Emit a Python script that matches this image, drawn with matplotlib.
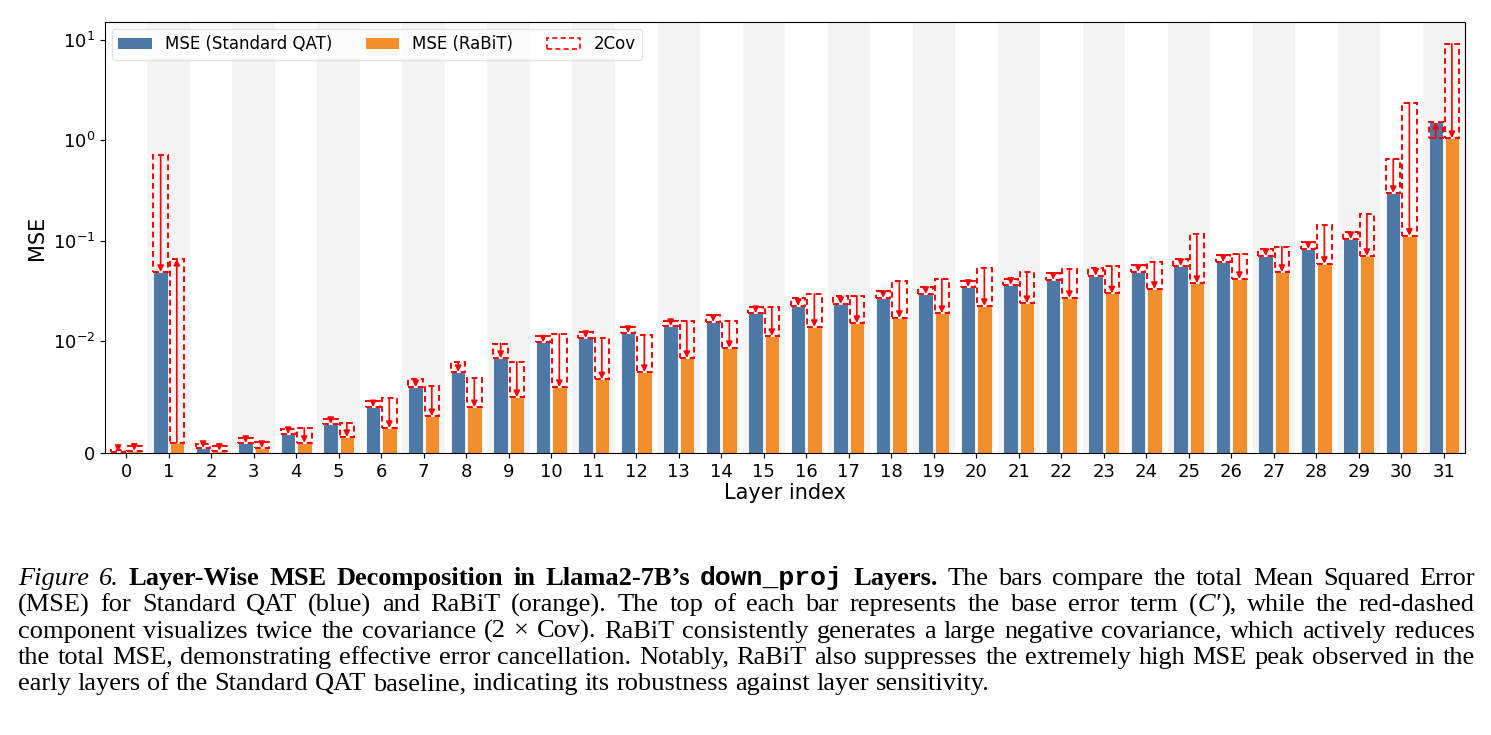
import matplotlib
matplotlib.use("Agg")
import matplotlib.pyplot as plt
from matplotlib.patches import Patch
from matplotlib.ticker import NullLocator

# valeurs (MSE par couche)
layers = list(range(32))
qat_bar = [0.0001, 0.049, 0.00045, 0.0009, 0.0017, 0.0026, 0.0041, 0.0059, 0.00725, 0.0085,
           0.0099, 0.0108, 0.0121, 0.0142, 0.0156, 0.0191, 0.0225, 0.0235, 0.027, 0.0296,
           0.0348, 0.0365, 0.041, 0.045, 0.049, 0.0562, 0.0616, 0.0707, 0.083, 0.104,
           0.299, 1.52]
qat_box = [0.0003, 0.714, 0.0008, 0.00134, 0.00215, 0.00305, 0.00466, 0.0066, 0.00815, 0.0098,
           0.0113, 0.0124, 0.0139, 0.0159, 0.0183, 0.022, 0.027, 0.0283, 0.0317, 0.0348,
           0.0398, 0.0417, 0.048, 0.053, 0.058, 0.066, 0.0723, 0.083, 0.0975, 0.122,
           0.65, 1.05]
rabit_bar = [0.0002, 0.0009, 0.0002, 0.00045, 0.0009, 0.00143, 0.00224, 0.0033, 0.0041, 0.005,
             0.0059, 0.0066, 0.00725, 0.0085, 0.0094, 0.0113, 0.0139, 0.0152, 0.0171, 0.0191,
             0.0225, 0.024, 0.027, 0.030, 0.0332, 0.038, 0.0417, 0.049, 0.0589, 0.0707,
             0.112, 1.05]
rabit_box = [0.0006, 0.066, 0.0006, 0.001, 0.00224, 0.00269, 0.0049, 0.006, 0.0067, 0.00815,
             0.0118, 0.0108, 0.0116, 0.016, 0.016, 0.022, 0.0296, 0.0283, 0.0398, 0.0417,
             0.054, 0.049, 0.052, 0.056, 0.0616, 0.117, 0.074, 0.087, 0.144, 0.185,
             2.36, 9.1]
# couches ou la fleche part de la barre vers le cadre
rabit_reversed = [1]
qat_reversed = []

BLUE = "#4e79a7"
ORANGE = "#f28e2b"
W = 0.34
OFF = 0.19

fig = plt.figure(figsize=(14.91, 7.35), dpi=100)
ax = fig.add_axes([0.0704, 0.3837, 0.9122, 0.5863])

for i in layers:
    if i % 2 == 1:
        ax.axvspan(i - 0.5, i + 0.5, color="#f4f4f4", zorder=0, lw=0)


def draw_series(xs, bars, boxes, color, reversed_idx):
    ax.bar(xs, bars, width=W, color=color, edgecolor="white", linewidth=0.6, zorder=2)
    for x, h, c, i in zip(xs, bars, boxes, layers):
        lo, hi = min(h, c), max(h, c)
        ax.bar(x, hi - lo, bottom=lo, width=W, fill=False, edgecolor="red",
               linestyle=(0, (3, 2)), linewidth=1.4, zorder=3)
        start, end = (h, c) if i in reversed_idx else (c, h)
        ax.annotate("", xy=(x, end), xytext=(x, start),
                    arrowprops=dict(arrowstyle="-|>", color="red", lw=1.2,
                                    mutation_scale=9, shrinkA=0, shrinkB=0),
                    zorder=4)


draw_series([i - OFF for i in layers], qat_bar, qat_box, BLUE, qat_reversed)
draw_series([i + OFF for i in layers], rabit_bar, rabit_box, ORANGE, rabit_reversed)

ax.set_yscale("symlog", linthresh=0.01, linscale=1)
ax.set_ylim(0, 15)
ax.yaxis.set_minor_locator(NullLocator())
ax.set_xlim(-0.5, 31.5)
ax.set_xticks(layers)
ax.set_xticklabels([str(i) for i in layers])
ax.tick_params(labelsize=13)
ax.set_xlabel("Layer index", fontsize=15, labelpad=2)
ax.set_ylabel("MSE", fontsize=15)

handles = [Patch(facecolor=BLUE, label="MSE (Standard QAT)"),
           Patch(facecolor=ORANGE, label="MSE (RaBiT)"),
           Patch(facecolor="none", edgecolor="red", linestyle=(0, (3, 2)),
                 linewidth=1.2, label="2Cov")]
ax.legend(handles=handles, loc="upper left", ncol=3, fontsize=12, frameon=True,
          framealpha=0.8, edgecolor="#dddddd", borderaxespad=0.4)

# legende de la figure, justifiee
caption = [
    [("Figure 6.", "it"), (" Layer-Wise MSE Decomposition in Llama2-7B\u2019s ", "bf"),
     ("down_proj", "tt"), (" Layers.", "bf"),
     (" The bars compare the total Mean Squared Error", "rm")],
    [("(MSE) for Standard QAT (blue) and RaBiT (orange).  The top of each bar represents the base error term (", "rm"),
     ("C\u2032", "it"), ("), while the red-dashed", "rm")],
    [("component visualizes twice the covariance (2 \u00d7 Cov). RaBiT consistently generates a large negative covariance, which actively reduces", "rm")],
    [("the total MSE, demonstrating effective error cancellation. Notably, RaBiT also suppresses the extremely high MSE peak observed in the", "rm")],
    [("early layers of the Standard QAT baseline, indicating its robustness against layer sensitivity.", "rm")],
]
styles = {
    "rm": dict(family="Liberation Serif"),
    "it": dict(family="Liberation Serif", style="italic"),
    "bf": dict(family="Liberation Serif", weight="bold"),
    "tt": dict(family="Liberation Mono", weight="bold"),
}
CAP_SIZE = 19


def split_words(segments):
    words = []
    join = False
    for text, style in segments:
        parts = text.split(" ")
        for k, p in enumerate(parts):
            if p == "":
                join = False
                continue
            if k == 0 and join and words:
                words[-1].append((p, style))
            else:
                words.append([(p, style)])
            join = True
    return words


renderer = fig.canvas.get_renderer()
FW, FH = 1491.0, 735.0


def run_width(text, style):
    t = fig.text(0, 0, text, fontsize=CAP_SIZE, **styles[style])
    w = t.get_window_extent(renderer).width
    t.remove()
    return w


x_left, x_right = 18, 1475
space_w = run_width("a a", "rm") - 2 * run_width("a", "rm")
for n, line in enumerate(caption):
    words = split_words(line)
    widths = [[run_width(t, s) for t, s in w] for w in words]
    total = sum(sum(w) for w in widths)
    if n < len(caption) - 1:
        gap = (x_right - x_left - total) / (len(words) - 1)
    else:
        gap = space_w
    y = FH - (585 + n * 26.3)
    x = x_left
    for w, ws in zip(words, widths):
        for (t, s), wd in zip(w, ws):
            fig.text(x / FW, y / FH, t, fontsize=CAP_SIZE, va="baseline", **styles[s])
            x += wd
        x += gap

fig.savefig("out.png", dpi=100)
